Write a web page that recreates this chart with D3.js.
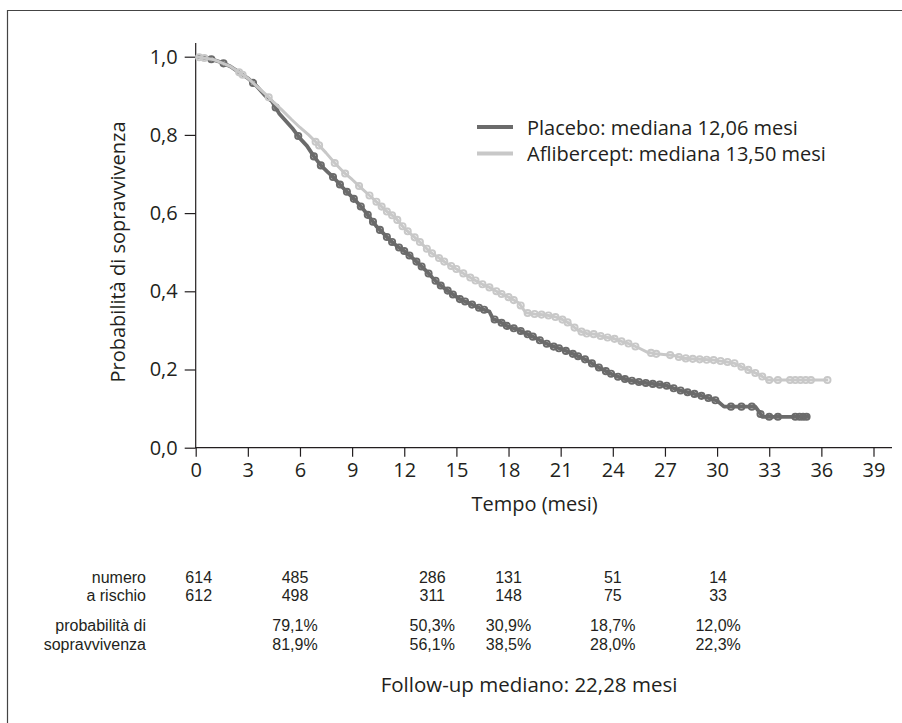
<!DOCTYPE html>
<html>
<head>
<meta charset="utf-8">
<script src="https://cdn.jsdelivr.net/npm/d3@7"></script>
<style>
  body { margin: 0; background: #fff; }
  text { font-family: "Open Sans", sans-serif; fill: #231f20; }
</style>
</head>
<body>
<svg id="chart" width="902" height="723"></svg>
<script>
// Kaplan-Meier curves (months, survival)
const placeboTime = [0, 0.8, 1.5, 2.0, 2.5, 3.0, 3.5, 4.0, 4.4, 4.8, 5.2, 5.6, 6.0, 6.4, 6.8, 7.2, 7.6, 8.0, 8.4, 8.8, 9.2, 9.6, 10.0, 10.4, 10.8, 11.2, 11.6, 12.0, 12.4, 12.8, 13.2, 13.6, 14.0, 14.4, 14.8, 15.2, 15.6, 16.0, 16.4, 16.9, 17.1, 17.5, 18.0, 18.5, 19.0, 19.5, 20.0, 20.5, 21.0, 21.5, 22.0, 22.5, 23.0, 23.5, 24.0, 24.5, 25.0, 25.5, 26.0, 26.5, 27.0, 27.5, 28.0, 28.5, 29.0, 29.5, 30.0, 30.4, 32.2, 32.4, 32.6, 35.3]
const placeboSurv = [1.0, 0.995, 0.985, 0.975, 0.96, 0.945, 0.925, 0.9, 0.885, 0.855, 0.835, 0.815, 0.791, 0.772, 0.745, 0.722, 0.705, 0.688, 0.668, 0.65, 0.632, 0.612, 0.59, 0.566, 0.548, 0.53, 0.515, 0.503, 0.488, 0.472, 0.455, 0.436, 0.418, 0.405, 0.392, 0.38, 0.372, 0.364, 0.356, 0.348, 0.33, 0.322, 0.309, 0.303, 0.292, 0.282, 0.27, 0.26, 0.253, 0.244, 0.234, 0.224, 0.21, 0.198, 0.187, 0.178, 0.172, 0.168, 0.165, 0.162, 0.16, 0.152, 0.145, 0.14, 0.134, 0.127, 0.12, 0.105, 0.105, 0.093, 0.079, 0.079]
const placeboCensor = [0.9, 1.6, 3.3, 4.6, 5.9, 6.8, 7.2, 7.9, 8.3, 8.7, 9.1, 9.5, 9.9, 10.2, 10.6, 11.0, 11.3, 11.7, 12.0, 12.3, 12.7, 13.0, 13.4, 13.8, 14.1, 14.5, 14.8, 15.2, 15.5, 15.9, 16.3, 16.6, 17.2, 17.6, 17.9, 18.3, 18.7, 19.1, 19.4, 19.8, 20.2, 20.6, 20.9, 21.3, 21.7, 22.0, 22.4, 22.8, 23.2, 23.6, 23.9, 24.3, 24.7, 25.1, 25.5, 25.9, 26.3, 26.7, 27.1, 27.5, 27.9, 28.3, 28.7, 29.1, 29.5, 29.9, 30.8, 31.4, 32.0, 32.5, 33.0, 33.5, 34.5, 34.75, 34.95, 35.15]

const afliTime = [0, 1.0, 2.0, 2.5, 3.0, 3.5, 4.0, 4.5, 5.0, 5.5, 6.0, 6.5, 7.0, 7.5, 8.0, 8.5, 9.0, 9.5, 10.0, 10.5, 11.0, 11.5, 12.0, 12.5, 13.0, 13.5, 14.0, 14.5, 15.0, 15.5, 16.0, 16.5, 17.0, 17.5, 18.0, 18.6, 19.0, 19.5, 20.0, 20.5, 21.0, 21.5, 22.0, 22.5, 23.0, 23.5, 24.0, 24.5, 25.0, 25.5, 26.0, 26.5, 27.5, 28.0, 29.0, 29.8, 30.5, 31.0, 31.5, 32.0, 32.5, 32.9, 36.4]
const afliSurv = [1.0, 0.993, 0.975, 0.96, 0.945, 0.925, 0.905, 0.883, 0.862, 0.84, 0.819, 0.8, 0.778, 0.754, 0.728, 0.705, 0.686, 0.665, 0.645, 0.625, 0.604, 0.588, 0.561, 0.542, 0.522, 0.5, 0.485, 0.47, 0.457, 0.443, 0.43, 0.418, 0.408, 0.395, 0.385, 0.37, 0.345, 0.342, 0.34, 0.337, 0.33, 0.318, 0.3, 0.292, 0.29, 0.283, 0.28, 0.272, 0.265, 0.255, 0.244, 0.24, 0.236, 0.229, 0.226, 0.224, 0.22, 0.216, 0.205, 0.195, 0.185, 0.173, 0.173]
const afliCensor = [0.2, 0.5, 2.5, 2.7, 4.2, 6.9, 7.1, 8.0, 8.6, 9.4, 10.0, 10.4, 10.7, 11.0, 11.3, 11.6, 11.9, 12.2, 12.6, 12.9, 13.3, 13.6, 14.0, 14.3, 14.7, 15.0, 15.4, 15.8, 16.1, 16.5, 16.9, 17.3, 17.6, 18.0, 18.3, 18.7, 19.1, 19.5, 19.9, 20.3, 20.7, 21.1, 21.4, 21.8, 22.2, 22.5, 22.9, 23.3, 23.7, 24.1, 24.5, 24.9, 25.3, 26.2, 26.5, 27.3, 27.8, 28.2, 28.6, 29.0, 29.4, 29.8, 30.2, 30.6, 31.0, 31.4, 31.8, 32.2, 32.6, 33.0, 33.5, 34.2, 34.5, 34.8, 35.1, 35.4, 36.35]

const xTicks = [0, 3, 6, 9, 12, 15, 18, 21, 24, 27, 30, 33, 36, 39]
const yTicks = [0, 0.2, 0.4, 0.6, 0.8, 1.0]

const legendLabels = ["Placebo: mediana 12,06 mesi", "Aflibercept: mediana 13,50 mesi"]

// table below the chart
const tableMonths = [0, 6, 12, 18, 24, 30]
const tableNudge = [3, -5, 28, 0, 0, 1]   // column offsets in px, as placed in the original
const riskPlacebo = ["614", "485", "286", "131", "51", "14"]
const riskAfli = ["612", "498", "311", "148", "75", "33"]
const probPlacebo = ["", "79,1%", "50,3%", "30,9%", "18,7%", "12,0%"]
const probAfli = ["", "81,9%", "56,1%", "38,5%", "28,0%", "22,3%"]

const darkGrey = "#6b6b6b"
const lightGrey = "#c8c8c8"
const ink = "#231f20"

const svg = d3.select("#chart")

// frame
svg.append("path")
    .attr("d", "M7.5,723 V10.5 H902")
    .attr("fill", "none")
    .attr("stroke", "#444")
    .attr("stroke-width", 1.2)

const x = d3.scaleLinear().domain([0, 39]).range([195.7, 873.5])
const y = d3.scaleLinear().domain([0, 1]).range([447.7, 56.7])

// axes
const yAxis = svg.append("g")
    .attr("transform", "translate(195.7,0)")
    .call(d3.axisLeft(y).tickValues(yTicks).tickSize(11).tickPadding(7)
        .tickFormat(d => d.toFixed(1).replace(".", ",")))
yAxis.select(".domain").remove()

const xAxis = svg.append("g")
    .attr("transform", "translate(0,447.7)")
    .call(d3.axisBottom(x).tickValues(xTicks).tickSize(9).tickPadding(6))
xAxis.select(".domain").remove()

svg.selectAll(".tick line").attr("stroke", ink).attr("stroke-width", 1.2)
svg.selectAll(".tick text").attr("font-size", 20).attr("fill", ink)

svg.append("line")
    .attr("x1", 195.7).attr("x2", 195.7).attr("y1", 43).attr("y2", 448)
    .attr("stroke", ink).attr("stroke-width", 1.2)
svg.append("line")
    .attr("x1", 195.1).attr("x2", 892).attr("y1", 447.7).attr("y2", 447.7)
    .attr("stroke", ink).attr("stroke-width", 1.2)

svg.append("text")
    .attr("transform", "translate(125,252) rotate(-90)")
    .attr("text-anchor", "middle")
    .attr("font-size", 20)
    .text("Probabilità di sopravvivenza")

svg.append("text")
    .attr("x", x(19.5)).attr("y", 511)
    .attr("text-anchor", "middle")
    .attr("font-size", 20)
    .text("Tempo (mesi)")

// curves
function survAt(times, surv, t) {
    let i = d3.bisectRight(times, t) - 1
    i = Math.max(0, Math.min(i, times.length - 2))
    let f = (t - times[i]) / (times[i + 1] - times[i])
    f = Math.max(0, Math.min(1, f))
    return surv[i] + f * (surv[i + 1] - surv[i])
}

function drawCurve(times, surv, censor, color, width) {
    let pts = times.map((t, i) => [t, surv[i]])
    let line = d3.line()
        .x(d => x(d[0]))
        .y(d => y(d[1]))
    svg.append("path")
        .datum(pts)
        .attr("d", line)
        .attr("fill", "none")
        .attr("stroke", color)
        .attr("stroke-width", width)
        .attr("stroke-linejoin", "round")

    svg.append("g").selectAll("circle")
        .data(censor)
        .join("circle")
        .attr("cx", d => x(d))
        .attr("cy", d => y(survAt(times, surv, d)))
        .attr("r", 3.1)
        .attr("fill", "none")
        .attr("stroke", color)
        .attr("stroke-width", 1.9)
}

drawCurve(placeboTime, placeboSurv, placeboCensor, darkGrey, 3.8)
drawCurve(afliTime, afliSurv, afliCensor, lightGrey, 3)

// legend
const legend = svg.append("g")
legendLabels.forEach((lab, i) => {
    legend.append("line")
        .attr("x1", 477).attr("x2", 513)
        .attr("y1", 127 + i * 26.6).attr("y2", 127 + i * 26.6)
        .attr("stroke", i == 0 ? darkGrey : lightGrey)
        .attr("stroke-width", 4)
    legend.append("text")
        .attr("x", 527).attr("y", 134.5 + i * 26.6)
        .attr("font-size", 20)
        .text(lab)
})

// numbers at risk / survival table (tight rows, so a font with a short line box)
const tableFont = "'Liberation Sans', Arial, sans-serif"
const rowY = [582.5, 601, 631, 650]
const rowLabels = ["numero", "a rischio", "probabilità di", "sopravvivenza"]
rowLabels.forEach((lab, i) => {
    svg.append("text")
        .attr("x", 146).attr("y", rowY[i])
        .attr("text-anchor", "end")
        .style("font-family", tableFont)
        .style("font-size", "16px")
        .text(lab)
})

const rows = [riskPlacebo, riskAfli, probPlacebo, probAfli]
rows.forEach((r, j) => {
    svg.append("g").selectAll("text")
        .data(r)
        .join("text")
        .attr("x", (d, i) => x(tableMonths[i]) + tableNudge[i])
        .attr("y", rowY[j])
        .attr("text-anchor", "middle")
        .style("font-family", tableFont)
        .style("font-size", "16px")
        .text(d => d)
})

svg.append("text")
    .attr("x", 529).attr("y", 692)
    .attr("text-anchor", "middle")
    .attr("font-size", 20.5)
    .text("Follow-up mediano: 22,28 mesi")
</script>
</body>
</html>
